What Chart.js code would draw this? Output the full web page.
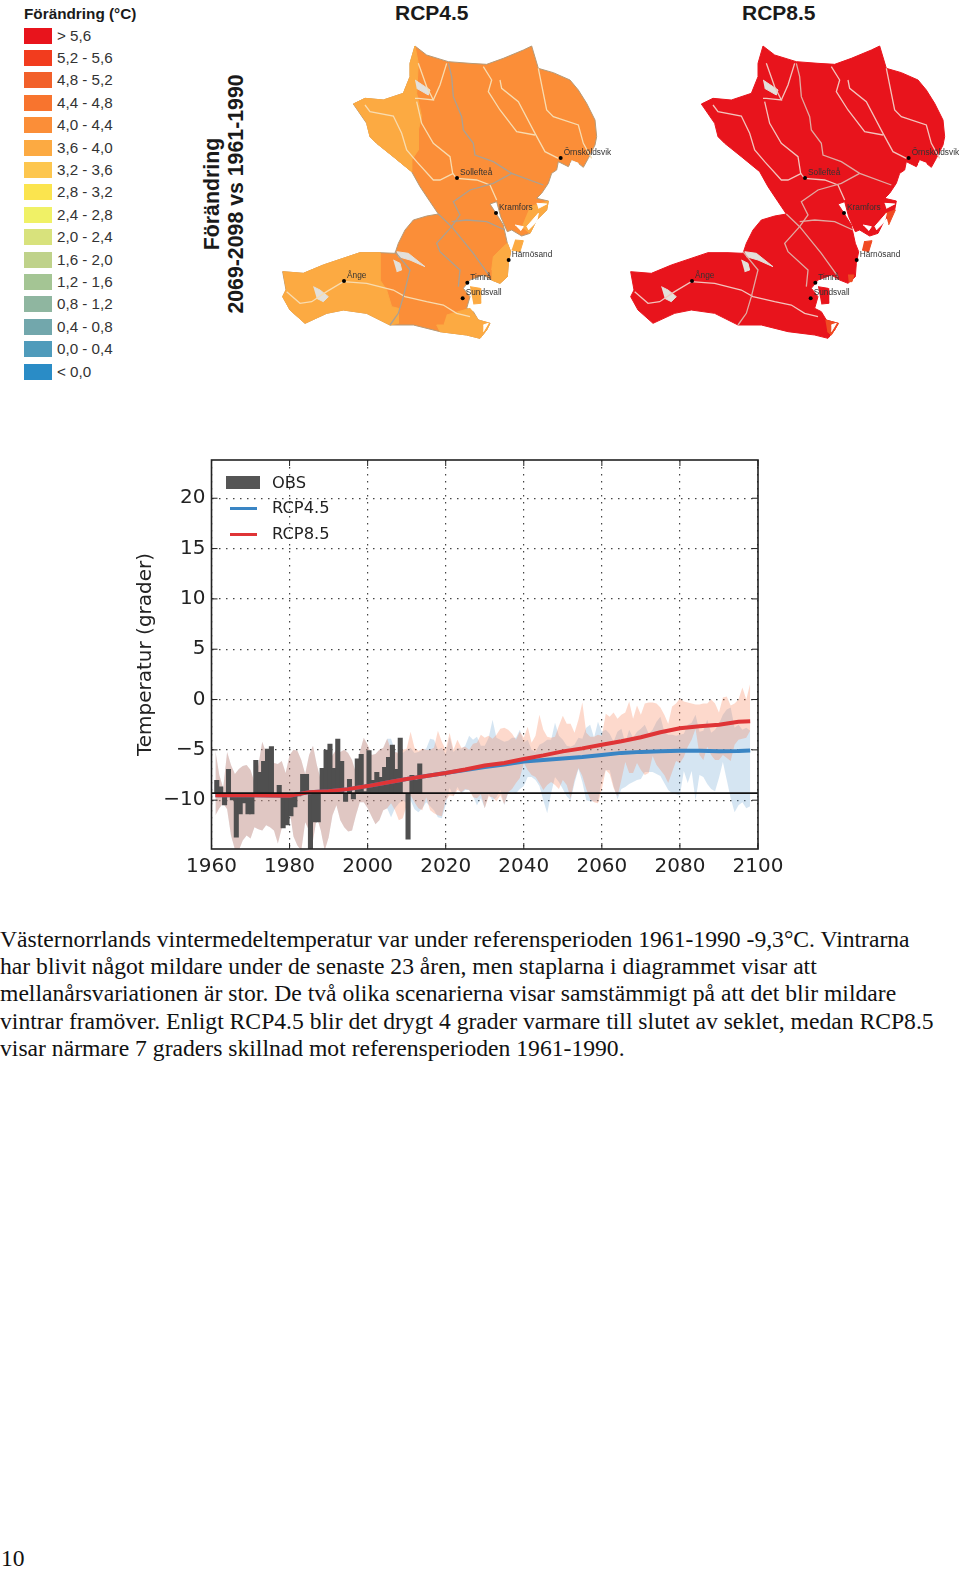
<!DOCTYPE html>
<html lang="sv">
<head>
    <meta charset="UTF-8">
    <title>Förändring vintertemperatur Västernorrland</title>
    <script src="https://cdn.jsdelivr.net/npm/chart.js"></script>
    <style>
        html, body { margin: 0; padding: 0; background: #fff; }
        body { position: relative; width: 960px; height: 1569px; overflow: hidden; }
        .abs { position: absolute; white-space: nowrap; }
        .sans { font-family: "Liberation Sans", Arial, sans-serif; color: #1a1a1a; }
        .line { font-family: "Liberation Serif", serif; font-size: 23.63px; line-height: 27px; left: 0; color: #111; }
        .city { font-family: "Liberation Sans", Arial, sans-serif; font-size: 8.3px; line-height: 10px; color: #333; }
        .rot { transform: translate(-50%, -50%) rotate(-90deg); font-weight: bold; }
        .leg { font-family: "DejaVu Sans", sans-serif; font-size: 16.3px; line-height: 20px; color: #222; }
        canvas { position: absolute; }
    </style>
</head>
<body>
    <canvas id="mapLeft" style="left:270px;top:30px;width:345px;height:320px"></canvas>
    <canvas id="mapRight" style="left:618px;top:30px;width:342px;height:320px"></canvas>
    <canvas id="tempChart" style="left:130px;top:450px;width:670px;height:440px"></canvas>

    <div class="abs sans" style="left:24px;top:5px;font-size:15.3px;line-height:18px;font-weight:bold">Förändring (°C)</div>
    <div class="abs sans" style="left:395px;top:0;font-size:21px;line-height:26px;font-weight:bold">RCP4.5</div>
    <div class="abs sans" style="left:742px;top:0;font-size:21px;line-height:26px;font-weight:bold">RCP8.5</div>
    <div class="abs sans rot" style="left:212px;top:194px;font-size:21.3px;line-height:26px">Förändring</div>
    <div class="abs sans rot" style="left:236px;top:194px;font-size:21.3px;line-height:26px">2069-2098 vs 1961-1990</div>

    <div class="abs" style="left:226px;top:476px;width:34px;height:13px;background:#555"></div>
    <div class="abs" style="left:230px;top:507px;width:27px;height:3px;background:#3a85c4"></div>
    <div class="abs" style="left:230px;top:533px;width:27px;height:3px;background:#df3436"></div>
    <div class="abs leg" style="left:272px;top:473px">OBS</div>
    <div class="abs leg" style="left:272px;top:498px">RCP4.5</div>
    <div class="abs leg" style="left:272px;top:524px">RCP8.5</div>

    <div class="abs line" style="top:926px">Västernorrlands vintermedeltemperatur var under referensperioden 1961-1990 -9,3°C. Vintrarna</div>
    <div class="abs line" style="top:953px">har blivit något mildare under de senaste 23 åren, men staplarna i diagrammet visar att</div>
    <div class="abs line" style="top:980px">mellanårsvariationen är stor. De två olika scenarierna visar samstämmigt på att det blir mildare</div>
    <div class="abs line" style="top:1008px">vintrar framöver. Enligt RCP4.5 blir det drygt 4 grader varmare till slutet av seklet, medan RCP8.5</div>
    <div class="abs line" style="top:1035px">visar närmare 7 graders skillnad mot referensperioden 1961-1990.</div>
    <div class="abs line" style="top:1545px;left:1px">10</div>

    <script>
        // Legend classes for the maps
        const classLabels = ['> 5,6', '5,2 - 5,6', '4,8 - 5,2', '4,4 - 4,8', '4,0 - 4,4', '3,6 - 4,0', '3,2 - 3,6', '2,8 - 3,2',
            '2,4 - 2,8', '2,0 - 2,4', '1,6 - 2,0', '1,2 - 1,6', '0,8 - 1,2', '0,4 - 0,8', '0,0 - 0,4', '< 0,0'];
        const classColors = ['#e8141c', '#f23c1e', '#f2602a', '#f8742e', '#fb8e38', '#fcaa42', '#fdc64e', '#fbe44e',
            '#f0f166', '#d8e27c', '#bfd28a', '#a4c594', '#8fb6a0', '#72a7ac', '#4f9bbb', '#2a8cc6'];

        // Temperature chart axes
        const xTicks = [1960, 1980, 2000, 2020, 2040, 2060, 2080, 2100];
        const yTicks = [20, 15, 10, 5, 0, -5, -10];
        const refLevel = -9.3;

        // Observed winter means 1961-2013
        const obsYears = [1961, 1962, 1963, 1964, 1965, 1966, 1967, 1968, 1969, 1970,
            1971, 1972, 1973, 1974, 1975, 1976, 1977, 1978, 1979, 1980,
            1981, 1982, 1983, 1984, 1985, 1986, 1987, 1988, 1989, 1990,
            1991, 1992, 1993, 1994, 1995, 1996, 1997, 1998, 1999, 2000,
            2001, 2002, 2003, 2004, 2005, 2006, 2007, 2008, 2009, 2010,
            2011, 2012, 2013];
        const obsValues = [-8.0, -8.65, -10.5, -6.9, -10.0, -13.7, -11.4, -10.3, -11.4, -11.4,
            -6.0, -7.2, -6.1, -4.9, -4.65, -9.6, -8.5, -12.8, -12.5, -11.6,
            -10.7, -9.6, -7.4, -7.4, -16, -12.2, -12.2, -6.8, -5.0, -4.4,
            -6.8, -3.9, -6.1, -10.15, -7.9, -9.9, -5.85, -5.4, -9.1, -5.05,
            -8.0, -7.2, -7.7, -6.7, -5.7, -4.5, -6.9, -3.8, -9.3, -13.9,
            -7.5, -8.0, -6.35];

        // Model spread, same for both scenarios up to 2005
        const histHigh = [-5.1, -7.5, -8.8, -5.2, -6.5, -7.4, -6.9, -6.6, -6.5, -7.0,
            -8.2, -6.5, -4.2, -5.3, -6.0, -6.3, -6.4, -6.1, -7.3, -5.5,
            -5.0, -5.1, -6.0, -7.4, -5.5, -4.6, -6.5, -8.0, -7.2, -6.5,
            -5.5, -5.0, -5.2, -5.0, -5.3, -6.0, -7.3, -5.2, -3.8, -4.5,
            -5.5, -5.4, -5.0, -4.8, -3.9];
        const histLow = [-11.5, -10.8, -10.3, -10.9, -13.5, -14.9, -15, -14, -13.5, -13.8,
            -12.7, -12.9, -13, -12.5, -12.7, -13, -14.3, -12.8, -10.8, -11,
            -13.6, -14.5, -15, -12.2, -13, -14, -11.7, -13, -15, -13.7,
            -11.5, -10.5, -12, -12.7, -13.1, -13, -11.5, -10.2, -10.2, -10.8,
            -11.6, -12.4, -12, -11, -10.8];
        // 2006-2098
        const rcp85High = [-5.0, -5.2, -5.3, -5.0,
            -4.9, -3.2, -4.8, -5.1, -4.9, -5.0, -5.0, -4.8, -3.1, -4.2,
            -5.0, -3.3, -5.0, -4.0, -4.8, -4.7, -5.0, -4.4, -4.3, -3.5,
            -3.8, -3.6, -3.9, -3.5, -2.9, -2.8, -3.0, -3.4, -4.0, -3.2,
            -3.8, -2.7, -4.3, -3.6, -1.5, -3.0, -3.7, -3.8, -3.7, -2.6,
            -1.6, -2.4, -2.4, -3.3, -2.0, -0.3, -3.3, -3.7, -3.7, -3.5,
            -3.6, -1.4, -1.7, -1.3, -1.9, -1.5, -1.3, -0.2, -1.9, -0.6,
            -1.5, -0.4, -0.3, -0.3, -0.4, -0.8, -1.5, -2.4, -0.7, -0.4,
            0.1, -0.2, -0.3, -0.4, -0.5, -0.5, -0.4, -0.4, 0, -0.4,
            -1.3, 0.2, 0.3, -0.6, -0.4, 0, 1.2, 0, 1.6];
        const rcp85Low = [-10.3, -11, -12, -11.8,
            -10.5, -9.5, -10.2, -10.8, -11, -9.7, -11, -11.3, -11.5, -11.6,
            -10, -9.5, -9.6, -9, -9.2, -8.9, -9, -9.7, -9.8, -9.4,
            -10.8, -9.6, -9.7, -10.1, -9.5, -10.4, -9.2, -8.9, -8.3, -7.8,
            -6.3, -7.0, -7.5, -7.7, -8.3, -9.0, -8.5, -8.2, -8.5, -8.9,
            -8.0, -8.5, -9.8, -8.0, -6.8, -7.6, -8.9, -9.9, -10.2, -10.3,
            -8.9, -7.0, -7.4, -8.8, -9.6, -8.0, -6.2, -7.3, -7.3, -6.3,
            -7.0, -7.5, -7.3, -5.6, -6.5, -7.0, -7.5, -8.3, -7.2, -6.1,
            -6.3, -5.7, -4.7, -4.0, -2.9, -5.5, -6.0, -4.7, -5.5, -6.0,
            -6.0, -5.5, -5.8, -6.1, -4.5, -4.0, -3.9, -3.8, -3.1];
        const rcp45High = [-3.9, -5.1, -5.5, -5.3,
            -5.0, -4.8, -5.3, -5.2, -5.0, -4.9, -3.9, -4.0, -5.0, -4.8,
            -5.4, -3.7, -5.2, -4.8, -4.9, -4.6, -3.6, -4.0, -3.7, -4.6,
            -4.6, -3.8, -2.0, -3.8, -4.0, -4.2, -4.1, -3.8, -3.8, -3.0,
            -4.3, -4.0, -5.0, -5.2, -4.5, -4.3, -4.0, -4.0, -2.3, -3.6,
            -4.0, -4.6, -4.7, -4.5, -3.8, -3.9, -2.8, -2.5, -3.8, -2.2,
            -3.2, -3.0, -3.4, -4.2, -3.2, -2.9, -4.3, -3.0, -3.8, -3.2,
            -2.9, -2.5, -3.4, -3.0, -2.2, -1.7, -3.2, -3.5, -3.5, -3.6,
            -3.5, -3.4, -2.5, -2.3, -1.5, -3.2, -3.1, -2.0, -3.3, -3.0,
            -2.4, -1.5, -1.0, -0.8, -2.8, -2.5, -3.0, -2.8, -3.1];
        const rcp45Low = [-11.7, -10.8, -10.3, -10.0,
            -10.3, -10.0, -10.9, -11.2, -10.8, -10.2, -10.6, -11.0, -11.7, -11.8,
            -10.5, -8.8, -9.6, -8.7, -9.3, -9.0, -9.0, -9.6, -10.5, -9.8,
            -10.8, -9.4, -10.0, -9.7, -9.0, -10.5, -9.3, -9.2, -9.3, -8.9,
            -8.6, -7.7, -7.7, -8.0, -8.6, -10.0, -11.3, -9.3, -7.7, -8.2,
            -8.9, -9.6, -10.0, -8.3, -6.9, -8.2, -10.0, -10.1, -10.1, -10.1,
            -8.0, -7.0, -7.0, -8.6, -9.9, -8.9, -8.7, -8.4, -8.2, -8.0,
            -7.9, -7.2, -7.2, -7.2, -7.4, -7.6, -8.3, -9.0, -9.3, -9.4,
            -9.5, -7.1, -8.3, -7.1, -10.0, -7.5, -7.7, -8.4, -8.9, -9.1,
            -7.8, -6.2, -8.0, -9.8, -11.2, -10.5, -10.2, -10.8, -10.6];

        // Scenario means, read every few years
        const meanYears = [1961, 1970, 1980, 1985, 1990, 1995, 2000, 2005, 2010, 2015, 2020, 2025, 2030, 2035,
            2040, 2045, 2050, 2055, 2060, 2065, 2070, 2075, 2080, 2085, 2090, 2095, 2098];
        const rcp85Mean = [-9.5, -9.5, -9.55, -9.2, -9.1, -8.9, -8.6, -8.25, -7.9, -7.6, -7.3, -6.95, -6.55, -6.3,
            -5.9, -5.55, -5.15, -4.85, -4.5, -4.15, -3.75, -3.25, -2.85, -2.65, -2.5, -2.2, -2.15];
        const rcp45Mean = [-9.5, -9.5, -9.55, -9.2, -9.1, -8.9, -8.6, -8.25, -7.9, -7.6, -7.3, -7.0, -6.7, -6.45,
            -6.15, -6.0, -5.85, -5.7, -5.5, -5.3, -5.2, -5.15, -5.1, -5.1, -5.15, -5.12, -5.07];

        // Map shape, traced on a 1035x960 grid (second map uses the same grid)
        const mapOutline = [[435,48],[470,75],[535,95],[600,100],[650,103],[700,85],[760,60],[785,48],[805,115],[850,128],[900,150],[925,180],[950,220],[975,270],[980,320],[975,345],[955,385],[940,412],[925,400],[905,392],[895,410],[865,395],[860,420],[845,430],[835,460],[815,490],[800,505],[835,513],[830,540],[800,570],[780,610],[755,618],[725,600],[712,605],[692,560],[680,515],[660,522],[675,545],[700,585],[712,640],[722,665],[715,700],[712,740],[690,760],[665,750],[640,735],[600,750],[580,775],[600,800],[590,835],[610,845],[625,870],[660,880],[650,900],[630,925],[590,915],[510,905],[430,885],[360,885],[290,850],[220,840],[170,850],[105,880],[60,840],[38,800],[48,780],[38,725],[100,730],[160,705],[270,668],[330,668],[375,670],[385,640],[405,600],[430,570],[470,558],[505,552],[480,515],[450,470],[425,425],[370,380],[320,340],[300,320],[290,280],[250,222],[285,205],[340,210],[400,190],[420,140],[420,100],[435,48]];
        const zoneNorthWest = [[250,222],[285,205],[340,210],[400,190],[420,140],[420,100],[435,48],[445,100],[440,190],[455,260],[445,300],[445,360],[425,390],[425,425],[370,380],[320,340],[300,320],[290,280]];
        const zoneSouthWest = [[38,725],[100,730],[160,705],[270,668],[330,668],[330,750],[350,780],[365,830],[385,835],[385,880],[360,885],[290,850],[220,840],[170,850],[105,880],[60,840],[38,800],[48,780]];
        const zoneSouthEast = [[530,855],[600,835],[625,870],[660,880],[650,900],[630,925],[590,915],[510,905],[500,885],[520,885]];
        const zoneEastCoast = [[665,720],[670,680],[700,650],[712,640],[722,665],[715,700],[712,740],[690,760],[665,750]];
        const zonePeninsula = [[780,530],[835,513],[830,540],[800,570],[780,610],[755,590]];
        const islandNorth = [[735,630],[760,632],[750,665],[725,660]];
        const islandSouth = [[600,770],[630,775],[632,820],[610,822]];
        const spotSouth = [[622,870],[662,880],[640,915],[628,905]];
        const spotCoast = [[690,735],[708,735],[702,755],[692,755]];
        const spotPeninsula = [[802,550],[832,540],[812,585]];
        const spotIsland = [[738,635],[762,632],[752,665],[732,660]];
        const notches = [
            [[800,520],[830,522],[805,535]],
            [[770,590],[805,550],[800,575],[775,600]],
            [[735,585],[760,590],[752,602]],
            [[640,885],[655,880],[640,905]],
            [[905,392],[925,400],[900,402]]
        ];
        const rivers = [
            [[285,225],[300,245],[370,258],[395,310],[410,360],[440,395],[490,450],[510,450],[550,430]],
            [[440,215],[455,280],[490,340],[540,380],[548,430],[560,445],[620,450],[660,465],[680,510]],
            [[445,100],[470,170],[490,210],[445,205],[435,205]],
            [[530,100],[510,165],[490,210]],
            [[640,110],[665,150],[655,185],[690,240],[740,305],[795,315]],
            [[690,150],[695,175],[745,215],[795,310],[825,365],[865,385]],
            [[805,115],[830,240],[850,260],[925,285],[940,340],[965,385]],
            [[50,785],[90,820],[125,815],[170,785],[220,755],[290,760],[370,780],[405,800],[470,815],[520,825],[560,850],[600,860]]
        ];
        const borders = [
            [[535,100],[545,140],[550,200],[575,260],[580,300],[610,340],[615,375],[670,395],[725,430],[820,465]],
            [[725,430],[670,460],[600,480],[550,515],[570,555],[545,590]],
            [[505,552],[545,590],[610,670],[660,740]],
            [[545,590],[500,640],[510,665],[570,720],[565,770]],
            [[545,575],[590,570],[650,575],[705,600]],
            [[375,665],[420,720],[400,800],[385,850],[360,885]]
        ];
        const lakes = [
            [[130,770],[150,780],[175,800],[160,815],[140,805]],
            [[435,150],[480,180],[475,195],[440,175]],
            [[380,665],[415,670],[465,710],[420,690],[385,680]],
            [[370,690],[390,700],[395,720],[380,725]]
        ];
        const cityNames = ['Örnsköldsvik', 'Sollefteå', 'Kramfors', 'Härnösand', 'Timrå', 'Sundsvall', 'Ånge'];
        const cityX = [872, 561, 678, 716, 592, 578, 222];
        const cityY = [384, 444, 549, 690, 758, 805, 753];

        const toPoints = list => list.map(p => ({ x: p[0], y: p[1] }));

        function shape(list, color) {
            return { type: 'scatter', showLine: true, data: toPoints(list), backgroundColor: color, borderColor: color, borderWidth: 1, pointRadius: 0, fill: 'shape' };
        }

        function path(list, color, width) {
            return { type: 'scatter', showLine: true, data: toPoints(list), borderColor: color, borderWidth: width, pointRadius: 0, fill: false };
        }

        function makeMap(id, baseColor, edgeColor, zones, riverColor, borderColor, lakeColor) {
            const sets = [shape(mapOutline, baseColor)];
            sets[0].borderColor = edgeColor;
            zones.forEach(z => sets.push(shape(z[0], z[1])));
            notches.forEach(n => sets.push(shape(n, '#fff')));
            lakes.forEach(l => sets.push(shape(l, lakeColor)));
            rivers.forEach(r => sets.push(path(r, riverColor, 1.3)));
            borders.forEach(b => sets.push(path(b, borderColor, 1.3)));
            sets.push({ type: 'scatter', data: cityX.map((x, i) => ({ x, y: cityY[i] })), backgroundColor: '#000', pointRadius: 2, borderWidth: 0 });
            sets.forEach((s, i) => { s.order = sets.length - i; });

            const el = document.getElementById(id);
            el.width = parseInt(el.style.width);
            el.height = parseInt(el.style.height);
            new Chart(el, {
                type: 'scatter',
                data: { datasets: sets },
                options: {
                    responsive: false,
                    animation: false,
                    plugins: { legend: { display: false }, tooltip: { enabled: false } },
                    layout: { padding: 0, autoPadding: false },
                    scales: {
                        x: { display: false, min: 0, max: el.width * 3 },
                        y: { display: false, min: 0, max: 960, reverse: true }
                    }
                }
            });
        }

        const lightOrange = '#fcaa42';
        makeMap('mapLeft', '#fb8e38', '#b59a78', [[zoneNorthWest, lightOrange], [zoneSouthWest, lightOrange], [zoneSouthEast, lightOrange],
            [zoneEastCoast, lightOrange], [zonePeninsula, lightOrange], [islandNorth, lightOrange], [islandSouth, lightOrange]],
            '#f8dcb0', '#a9a195', '#e3e0da');
        makeMap('mapRight', '#e8141c', '#e8141c', [[spotSouth, '#f04a22'], [spotCoast, '#f04a22'], [spotPeninsula, '#f04a22'],
            [spotIsland, '#f04a22'], [islandSouth, '#e8141c']],
            '#f3c4bd', '#e0aaa2', '#e3e0da');

        // City names on both maps
        [270, 618].forEach(left => {
            cityNames.forEach((name, i) => {
                const d = document.createElement('div');
                d.className = 'abs city';
                d.textContent = name;
                d.style.left = (left + cityX[i] / 3 + 3) + 'px';
                d.style.top = (30 + cityY[i] / 3 - 11) + 'px';
                document.body.appendChild(d);
            });
        });

        // Map legend rows
        classLabels.forEach((label, i) => {
            const top = 27.5 + i * 22.4;
            const box = document.createElement('div');
            box.className = 'abs';
            box.style.cssText = `left:24px;top:${top}px;width:28px;height:16px;background:${classColors[i]}`;
            document.body.appendChild(box);
            const txt = document.createElement('div');
            txt.className = 'abs sans';
            txt.style.cssText = `left:57px;top:${top - 1}px;font-size:15.2px;line-height:18px;color:#333`;
            txt.textContent = label;
            document.body.appendChild(txt);
        });

        // Frame and inward tick marks like the original plot
        const framePlugin = {
            id: 'frame',
            afterDatasetsDraw(chart) {
                const { ctx, chartArea: a, scales } = chart;
                ctx.save();
                ctx.strokeStyle = '#222';
                ctx.lineWidth = 1;
                ctx.beginPath();
                xTicks.forEach(v => {
                    const px = scales.x.getPixelForValue(v);
                    ctx.moveTo(px, a.bottom); ctx.lineTo(px, a.bottom - 6);
                    ctx.moveTo(px, a.top); ctx.lineTo(px, a.top + 6);
                });
                yTicks.forEach(v => {
                    const py = scales.y.getPixelForValue(v);
                    ctx.moveTo(a.left, py); ctx.lineTo(a.left + 6, py);
                    ctx.moveTo(a.right, py); ctx.lineTo(a.right - 6, py);
                });
                ctx.stroke();
                ctx.lineWidth = 1.6;
                ctx.strokeRect(a.left, a.top, a.right - a.left, a.bottom - a.top);
                ctx.restore();
            }
        };

        const bandYears = [];
        for (let y = 1961; y <= 2098; y++) bandYears.push(y);
        const series = (xs, ys) => xs.map((x, i) => ({ x, y: ys[i] }));
        const band = (ys, color, fill, order) => ({
            type: 'line', data: series(bandYears, ys), borderWidth: 0, pointRadius: 0, tension: 0,
            backgroundColor: color, fill, order
        });
        const mean = (ys, color, order) => ({
            type: 'line', data: series(meanYears, ys), borderColor: color, borderWidth: 4, pointRadius: 0,
            tension: 0, fill: false, order
        });

        const canvasEl = document.getElementById('tempChart');
        canvasEl.width = 670;
        canvasEl.height = 440;
        new Chart(canvasEl, {
            type: 'bar',
            data: {
                datasets: [
                    band(histHigh.concat(rcp45High), 'rgba(115,168,212,0.3)', '+1', 7),
                    band(histLow.concat(rcp45Low), 'transparent', false, 7),
                    band(histHigh.concat(rcp85High), 'rgba(250,128,85,0.3)', '+1', 6),
                    band(histLow.concat(rcp85Low), 'transparent', false, 6),
                    {
                        type: 'bar', data: series(obsYears.map(y => y + 0.35), obsValues), base: refLevel,
                        backgroundColor: '#4f4f4f', barPercentage: 1.3, categoryPercentage: 1, order: 5
                    },
                    mean(rcp45Mean, '#3a85c4', 4),
                    mean(rcp85Mean, '#df3436', 3),
                    {
                        type: 'line', data: series([1960, 2100], [refLevel, refLevel]), borderColor: '#111',
                        borderWidth: 1.6, pointRadius: 0, fill: false, order: 2
                    }
                ]
            },
            options: {
                responsive: false,
                animation: false,
                plugins: { legend: { display: false }, tooltip: { enabled: false } },
                layout: { autoPadding: false, padding: { left: 0, right: 42, top: 10, bottom: 0 } },
                scales: {
                    x: {
                        type: 'linear', offset: false, min: 1960, max: 2100,
                        afterBuildTicks: s => { s.ticks = xTicks.map(value => ({ value })); },
                        afterFit: s => { s.height = 41; },
                        grid: { color: '#444', lineWidth: 1.2, offset: false, drawTicks: false },
                        border: { display: false, dash: [1.5, 5.5] },
                        ticks: { color: '#222', font: { family: 'DejaVu Sans', size: 20 }, padding: 6, maxRotation: 0, callback: v => String(v) }
                    },
                    y: {
                        min: -14.85, max: 23.8,
                        afterBuildTicks: s => { s.ticks = yTicks.map(value => ({ value })); },
                        afterFit: s => { s.width = 81.5; s.paddingTop = 0; s.paddingBottom = 0; },
                        grid: { color: '#444', lineWidth: 1.2, drawTicks: false },
                        border: { display: false, dash: [1.5, 5.5] },
                        title: { display: true, text: 'Temperatur (grader)', color: '#222', font: { family: 'DejaVu Sans', size: 20 }, padding: 4 },
                        ticks: { color: '#222', font: { family: 'DejaVu Sans', size: 20 }, padding: 6, callback: v => String(v).replace('-', '\u2212') }
                    }
                }
            },
            plugins: [framePlugin]
        });
    </script>
</body>
</html>
